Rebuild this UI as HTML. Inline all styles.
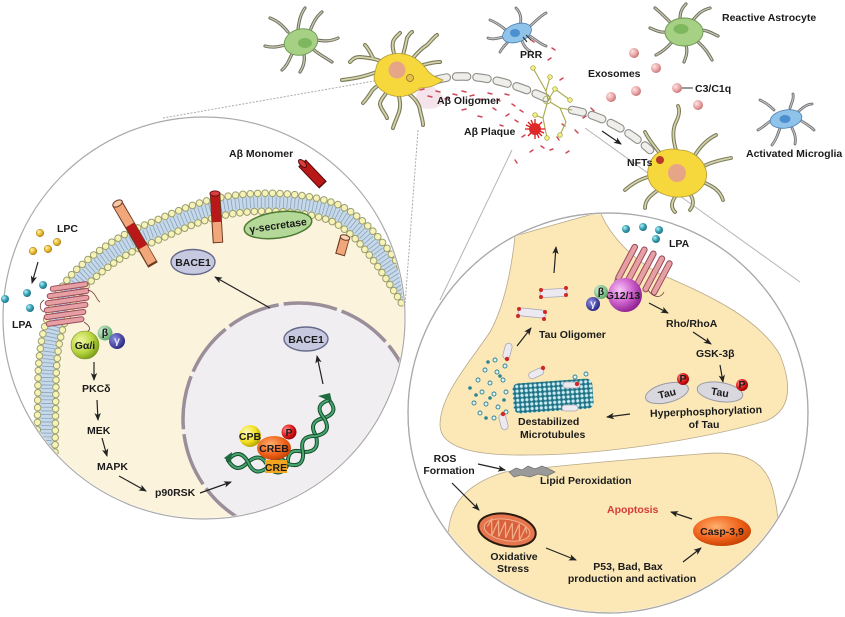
<!DOCTYPE html>
<html><head><meta charset="utf-8"><style>
html,body{margin:0;padding:0;background:#fff;}
svg{display:block;}
text{font-family:"Liberation Sans",Arial,sans-serif;font-weight:bold;font-size:10.5px;fill:#1b1b1b;}
.ar{stroke:#222;stroke-width:1.2;fill:none;marker-end:url(#ah);}
.c{text-anchor:middle;}
</style></head><body>
<svg width="845" height="617" viewBox="0 0 845 617" xmlns="http://www.w3.org/2000/svg">
<defs>
<marker id="ah" markerWidth="9" markerHeight="8" refX="7" refY="4" orient="auto" markerUnits="userSpaceOnUse"><path d="M0,0.8 L8,4 L0,7.2 L2,4 Z" fill="#222"/></marker>
<clipPath id="cl"><circle cx="204" cy="318" r="200"/></clipPath>
<clipPath id="cr"><circle cx="608" cy="413" r="199"/></clipPath>
<radialGradient id="gTeal" cx="0.35" cy="0.35" r="0.7"><stop offset="0" stop-color="#bff0f5"/><stop offset="0.5" stop-color="#3aa6b8"/><stop offset="1" stop-color="#1f6f80"/></radialGradient>
<radialGradient id="gYel" cx="0.35" cy="0.35" r="0.7"><stop offset="0" stop-color="#fff3b0"/><stop offset="0.5" stop-color="#efc23c"/><stop offset="1" stop-color="#b88a10"/></radialGradient>
<radialGradient id="gPink" cx="0.35" cy="0.35" r="0.7"><stop offset="0" stop-color="#fde3e3"/><stop offset="0.6" stop-color="#e9a3a3"/><stop offset="1" stop-color="#c07070"/></radialGradient>
<radialGradient id="gGa" cx="0.35" cy="0.35" r="0.7"><stop offset="0" stop-color="#f1f7a0"/><stop offset="0.6" stop-color="#b8d640"/><stop offset="1" stop-color="#7a9e18"/></radialGradient>
<radialGradient id="gB" cx="0.35" cy="0.35" r="0.7"><stop offset="0" stop-color="#d5f0d8"/><stop offset="1" stop-color="#5aa868"/></radialGradient>
<radialGradient id="gG" cx="0.35" cy="0.35" r="0.7"><stop offset="0" stop-color="#8c8ce0"/><stop offset="1" stop-color="#262680"/></radialGradient>
<radialGradient id="gPur" cx="0.35" cy="0.35" r="0.7"><stop offset="0" stop-color="#f6c6f6"/><stop offset="0.5" stop-color="#d268d2"/><stop offset="1" stop-color="#8e1e8e"/></radialGradient>
<radialGradient id="gOr" cx="0.4" cy="0.35" r="0.7"><stop offset="0" stop-color="#ffb070"/><stop offset="0.6" stop-color="#f0621a"/><stop offset="1" stop-color="#c03e00"/></radialGradient>
<radialGradient id="gRed" cx="0.35" cy="0.35" r="0.7"><stop offset="0" stop-color="#ff9090"/><stop offset="0.6" stop-color="#e01818"/><stop offset="1" stop-color="#900000"/></radialGradient>
<radialGradient id="gCpb" cx="0.35" cy="0.35" r="0.7"><stop offset="0" stop-color="#fffcc0"/><stop offset="0.6" stop-color="#f3e020"/><stop offset="1" stop-color="#b0a000"/></radialGradient>
<pattern id="mt" width="4.6" height="4.6" patternUnits="userSpaceOnUse"><rect width="4.6" height="4.6" fill="#1f6f80"/><circle cx="2.3" cy="2.3" r="1.9" fill="#cdebf1" stroke="#2b8396" stroke-width="0.6"/></pattern>
</defs>

<!-- connector lines -->
<line x1="163" y1="118" x2="380" y2="80" stroke="#aaa" stroke-width="1" stroke-dasharray="2 1.5"/>
<line x1="418" y1="130" x2="405" y2="305" stroke="#aaa" stroke-width="1" stroke-dasharray="2 1.5"/>
<line x1="512" y1="150" x2="440" y2="300" stroke="#b5b5b5" stroke-width="1"/>
<line x1="585" y1="128" x2="800" y2="282" stroke="#b5b5b5" stroke-width="1"/>

<!-- LEFT CIRCLE -->
<circle cx="204" cy="318" r="201" fill="#fff" stroke="#aaa" stroke-width="1.2"/>
<g clip-path="url(#cl)">
  <path d="M46,452 L47,380 C48,330 60,300 82,277 C105,255 130,240 153,232 C180,220 200,210 230,205 C270,199 310,203 335,213 C360,225 380,250 410,300 L430,560 L20,560 Z" fill="#fcf3dd"/>
  <!-- nucleus -->
  <circle cx="299" cy="419" r="116" fill="#f1eef1" stroke="#998e99" stroke-width="3.5" stroke-dasharray="54 5"/>
  <!-- membrane -->
  <path d="M46,452 L47,380 C48,330 60,300 82,277 C105,255 130,240 153,232 C180,220 200,210 230,205 C270,199 310,203 335,213 C360,225 380,250 410,300" fill="none" stroke="#c6d9ea" stroke-width="15"/>
  <path d="M46,452 L47,380 C48,330 60,300 82,277 C105,255 130,240 153,232 C180,220 200,210 230,205 C270,199 310,203 335,213 C360,225 380,250 410,300" fill="none" stroke="#8aa2bb" stroke-width="11" stroke-dasharray="0.8 2.9"/>
  <g fill="none" stroke-linecap="round">
    <path d="M37,452 L38,380 C39,326 53,293 76,270 C101,247 127,231 150,223 C178,211 198,201 229,196 C270,190 312,194 339,205 C366,218 388,245 418,296" stroke="#9a9e6c" stroke-width="7.6" stroke-dasharray="0 7.4"/>
    <path d="M37,452 L38,380 C39,326 53,293 76,270 C101,247 127,231 150,223 C178,211 198,201 229,196 C270,190 312,194 339,205 C366,218 388,245 418,296" stroke="#f7f3b8" stroke-width="5.6" stroke-dasharray="0 7.4"/>
    <path d="M55,452 L56,380 C57,334 67,307 88,284 C110,263 134,249 156,241 C183,229 202,219 231,214 C270,208 308,212 331,221 C354,232 372,255 402,304" stroke="#9a9e6c" stroke-width="7.6" stroke-dasharray="0 7.2"/>
    <path d="M55,452 L56,380 C57,334 67,307 88,284 C110,263 134,249 156,241 C183,229 202,219 231,214 C270,208 308,212 331,221 C354,232 372,255 402,304" stroke="#f7f3b8" stroke-width="5.6" stroke-dasharray="0 7.2"/>
  </g>
</g>

<!-- cylinders -->
<g stroke-linecap="butt">
  <line x1="117" y1="203" x2="153" y2="265" stroke="#6b3a22" stroke-width="11"/>
  <line x1="118" y1="205" x2="130" y2="225" stroke="#f2a77a" stroke-width="9"/>
  <line x1="130" y1="225" x2="143" y2="247" stroke="#b81818" stroke-width="9"/>
  <line x1="143" y1="247" x2="152" y2="263" stroke="#f2a77a" stroke-width="9"/>
  <ellipse cx="117.5" cy="203.5" rx="5.2" ry="3" transform="rotate(-30 117.5 203.5)" fill="#f9c9a8" stroke="#6b3a22" stroke-width="1"/>
  <line x1="215" y1="193" x2="218" y2="243" stroke="#6b3a22" stroke-width="10.5"/>
  <line x1="215" y1="195" x2="216.8" y2="222" stroke="#b81818" stroke-width="8.5"/>
  <line x1="216.8" y1="222" x2="218" y2="242" stroke="#f2a77a" stroke-width="8.5"/>
  <ellipse cx="215" cy="193.5" rx="5" ry="2.6" fill="#d84040" stroke="#6b1010" stroke-width="1"/>
  <line x1="345" y1="237" x2="340" y2="255" stroke="#6b3a22" stroke-width="10"/>
  <line x1="345" y1="238" x2="340.3" y2="254" stroke="#f2a77a" stroke-width="8"/>
  <ellipse cx="345" cy="237.5" rx="4.8" ry="2.6" transform="rotate(15 345 237.5)" fill="#f9d3b8" stroke="#6b3a22" stroke-width="1"/>
  <line x1="302" y1="163" x2="323" y2="185" stroke="#5a0a0a" stroke-width="10.5"/>
  <line x1="303" y1="164" x2="322" y2="184" stroke="#b81818" stroke-width="8.5"/>
  <ellipse cx="302.5" cy="163.5" rx="5" ry="2.6" transform="rotate(45 302.5 163.5)" fill="#d84040" stroke="#5a0a0a" stroke-width="1"/>
</g>

<!-- gamma secretase -->
<g transform="rotate(-8 278 225)">
  <ellipse cx="278" cy="225" rx="34" ry="13" fill="#b4d898" stroke="#4b7a32" stroke-width="1.5"/>
  <text x="278" y="229" class="c" font-size="10">γ-secretase</text>
</g>
<!-- BACE1 -->
<ellipse cx="193" cy="262" rx="22" ry="12.5" fill="#c6c9e0" stroke="#666a8a" stroke-width="1.4"/>
<text x="193" y="266" class="c" font-size="9.5">BACE1</text>
<ellipse cx="306" cy="339" rx="22" ry="12" fill="#c6c9e0" stroke="#666a8a" stroke-width="1.4"/>
<text x="306" y="343" class="c" font-size="9.5">BACE1</text>
<text x="229" y="157">Aβ Monomer</text>

<!-- LPC / LPA -->
<g stroke="#a07a10" stroke-width="0.5" fill="url(#gYel)">
  <circle cx="40" cy="233" r="3.8"/><circle cx="57" cy="242" r="3.8"/><circle cx="48" cy="249" r="3.8"/><circle cx="33" cy="251" r="3.8"/>
</g>
<text x="57" y="232">LPC</text>
<line x1="38" y1="262" x2="32" y2="283" class="ar"/>
<g fill="url(#gTeal)">
  <circle cx="43" cy="285" r="4"/><circle cx="27" cy="293" r="4"/><circle cx="30" cy="308" r="4"/><circle cx="5" cy="299" r="4"/>
</g>
<text x="12" y="328">LPA</text>
<!-- left receptor -->
<g fill="#e6a0a4" stroke="#9a4a5a" stroke-width="1">
  <rect x="50" y="284" width="38" height="5" rx="2.5" transform="rotate(-8 69 286)"/>
  <rect x="47" y="291" width="42" height="5" rx="2.5" transform="rotate(-8 68 293)"/>
  <rect x="45" y="298" width="44" height="5" rx="2.5" transform="rotate(-8 67 300)"/>
  <rect x="44" y="305" width="44" height="5" rx="2.5" transform="rotate(-8 66 307)"/>
  <rect x="44" y="312" width="42" height="5" rx="2.5" transform="rotate(-8 65 314)"/>
  <rect x="46" y="319" width="38" height="5" rx="2.5" transform="rotate(-8 65 321)"/>
</g>
<path d="M88,290 C96,292 96,300 100,302 M44,300 C38,304 40,310 44,312 M84,322 C90,326 92,330 86,332" fill="none" stroke="#6a3a3a" stroke-width="0.8"/>
<!-- G proteins -->
<circle cx="85" cy="345" r="14" fill="url(#gGa)" stroke="#7a9020" stroke-width="0.6"/>
<text x="85" y="349" class="c" font-size="9">Gα/i</text>
<circle cx="105" cy="333" r="7.5" fill="url(#gB)"/>
<text x="105" y="336" class="c" font-size="8.5">β</text>
<circle cx="117" cy="341" r="8" fill="url(#gG)"/>
<text x="117" y="344" class="c" font-size="8.5" style="fill:#e8e8ff">γ</text>
<line x1="94" y1="362" x2="94" y2="380" class="ar"/>
<text x="82" y="392">PKCδ</text>
<line x1="97" y1="400" x2="98" y2="420" class="ar"/>
<text x="87" y="434">MEK</text>
<line x1="102" y1="438" x2="107" y2="456" class="ar"/>
<text x="97" y="470">MAPK</text>
<line x1="119" y1="476" x2="146" y2="491" class="ar"/>
<text x="155" y="496">p90RSK</text>
<line x1="200" y1="493" x2="231" y2="482" class="ar"/>
<line x1="270" y1="308" x2="215" y2="277" class="ar"/>
<line x1="323" y1="384" x2="317" y2="356" class="ar"/>

<!-- DNA -->
<g fill="none" stroke-linecap="round">
  <path d="M228,460 Q236.6,474.9 248,462 Q261.4,450.9 268,467 Q280.1,479.4 288,464 Q286.75,447.1 303,452 Q320.4,452.8 316,436 Q307.3,421.3 324,418 Q339.9,412.8 329,400" stroke="#134d2c" stroke-width="4"/>
  <path d="M228,460 Q236.6,474.9 248,462 Q261.4,450.9 268,467 Q280.1,479.4 288,464 Q286.75,447.1 303,452 Q320.4,452.8 316,436 Q307.3,421.3 324,418 Q339.9,412.8 329,400" stroke="#49a56f" stroke-width="2"/>
  <path d="M228,460 Q239.4,447.1 248,462 Q254.6,478.1 268,467 Q275.9,451.6 288,464 Q304.25,468.9 303,452 Q298.6,435.2 316,436 Q332.7,432.7 324,418 Q313.1,405.2 329,400" stroke="#134d2c" stroke-width="4"/>
  <path d="M228,460 Q239.4,447.1 248,462 Q254.6,478.1 268,467 Q275.9,451.6 288,464 Q304.25,468.9 303,452 Q298.6,435.2 316,436 Q332.7,432.7 324,418 Q313.1,405.2 329,400" stroke="#49a56f" stroke-width="2"/>
</g>
<path d="M224,458 L232,452 L231,463 Z" fill="#1f6b40"/>
<path d="M318,396 L330,393 L332,402 Z" fill="#1f6b40"/>
<rect x="265" y="460" width="22" height="13" fill="#f3a520"/>
<text x="276" y="471" class="c" font-size="9.5">CRE</text>
<circle cx="250" cy="436" r="11" fill="url(#gCpb)"/>
<text x="250" y="440" class="c" font-size="9.5">CPB</text>
<ellipse cx="274" cy="448" rx="17" ry="12" fill="url(#gOr)"/>
<text x="274" y="452" class="c" font-size="9.5">CREB</text>
<circle cx="289" cy="432" r="7.5" fill="url(#gRed)"/>
<text x="289" y="436" class="c" font-size="9">P</text>

<!-- RIGHT CIRCLE -->
<circle cx="608" cy="413" r="200" fill="#fff" stroke="#aaa" stroke-width="1.2"/>
<g clip-path="url(#cr)">
  <path d="M515,236 Q560,223 600,212 C610,235 630,258 662,275 C712,296 760,320 780,355 C792,385 792,410 766,421 C700,440 600,455 530,455 C475,456 440,448 440,425 C440,395 470,362 490,332 C505,305 512,265 515,236 Z" fill="#fbe8b6" stroke="#b8a88a" stroke-width="0.8"/>
  <path d="M448,540 C448,505 465,484 505,472 C580,463 650,458 700,454 C740,450 765,458 773,490 C778,510 779,525 777,545 L777,640 L440,640 Z" fill="#fbe8b6" stroke="#b8a88a" stroke-width="0.8"/>
</g>
<circle cx="608" cy="413" r="200" fill="none" stroke="#aaa" stroke-width="1.2"/>

<!-- right receptor -->
<g fill="#e6a0a4" stroke="#9a4a5a" stroke-width="1">
  <rect x="606" y="260" width="40" height="5.5" rx="2.7" transform="rotate(-62 626 262)"/>
  <rect x="615" y="263" width="42" height="5.5" rx="2.7" transform="rotate(-62 636 266)"/>
  <rect x="624" y="267" width="42" height="5.5" rx="2.7" transform="rotate(-62 645 270)"/>
  <rect x="634" y="271" width="40" height="5.5" rx="2.7" transform="rotate(-62 654 274)"/>
  <rect x="643" y="275" width="38" height="5.5" rx="2.7" transform="rotate(-62 662 278)"/>
</g>
<path d="M616,278 C612,284 618,290 624,286 M664,292 C660,300 652,296 648,290" fill="none" stroke="#6a3a3a" stroke-width="0.8"/>
<g fill="url(#gTeal)">
  <circle cx="626" cy="229" r="4"/><circle cx="643" cy="227" r="4"/><circle cx="659" cy="230" r="4"/><circle cx="656" cy="239" r="4"/>
</g>
<text x="669" y="247">LPA</text>
<circle cx="625" cy="295" r="17" fill="url(#gPur)"/>
<text x="623" y="299" class="c" font-size="10">G12/13</text>
<circle cx="601" cy="292" r="7" fill="url(#gB)"/>
<text x="601" y="295" class="c" font-size="8.5">β</text>
<circle cx="593" cy="304" r="7" fill="url(#gG)"/>
<text x="593" y="307" class="c" font-size="8.5" style="fill:#e8e8ff">γ</text>
<line x1="649" y1="303" x2="668" y2="313" class="ar"/>
<text x="666" y="327">Rho/RhoA</text>
<line x1="693" y1="332" x2="711" y2="344" class="ar"/>
<text x="696" y="357">GSK-3β</text>
<line x1="720" y1="365" x2="723" y2="382" class="ar"/>
<!-- tau -->
<g transform="rotate(-14 667 393)">
  <ellipse cx="667" cy="393" rx="22" ry="9.5" fill="#d8d8de" stroke="#9a9aa8" stroke-width="1"/>
  <text x="667" y="397" class="c" font-size="10">Tau</text>
</g>
<circle cx="683" cy="379" r="6" fill="url(#gRed)"/><text x="683" y="382" class="c" font-size="7.5">P</text>
<g transform="rotate(9 720 392)">
  <ellipse cx="720" cy="392" rx="23" ry="9.5" fill="#d8d8de" stroke="#9a9aa8" stroke-width="1"/>
  <text x="720" y="396" class="c" font-size="10">Tau</text>
</g>
<circle cx="742" cy="385" r="6" fill="url(#gRed)"/><text x="742" y="388" class="c" font-size="7.5">P</text>
<text x="706" y="415" class="c" transform="rotate(-2 706 411)">Hyperphosphorylation</text>
<text x="704" y="428" class="c">of Tau</text>
<line x1="630" y1="414" x2="607" y2="417" class="ar"/>
<!-- microtubules -->
<g transform="rotate(-4 553 396)">
  <rect x="513" y="381" width="80" height="30" rx="6" fill="url(#mt)"/>
</g>
<g fill="#e4f2f4" stroke="#2b8396" stroke-width="0.9">
  <circle cx="495" cy="360" r="2"/><circle cx="485" cy="370" r="2"/><circle cx="497" cy="372" r="2"/><circle cx="505" cy="366" r="2"/><circle cx="478" cy="380" r="2"/><circle cx="490" cy="383" r="2"/><circle cx="503" cy="380" r="2"/><circle cx="482" cy="392" r="2"/><circle cx="494" cy="394" r="2"/><circle cx="506" cy="392" r="2"/><circle cx="474" cy="403" r="2"/><circle cx="486" cy="404" r="2"/><circle cx="498" cy="407" r="2"/><circle cx="480" cy="413" r="2"/><circle cx="494" cy="418" r="2"/><circle cx="506" cy="412" r="2"/><circle cx="586" cy="374" r="2"/><circle cx="575" cy="377" r="2"/>
</g>
<g fill="#2b8396">
  <circle cx="488" cy="362" r="1.8"/><circle cx="500" cy="376" r="1.8"/><circle cx="476" cy="395" r="1.8"/><circle cx="490" cy="398" r="1.8"/><circle cx="486" cy="418" r="1.8"/><circle cx="504" cy="400" r="1.8"/><circle cx="470" cy="388" r="1.8"/>
</g>
<!-- tau pills -->
<g fill="#eceaf0" stroke="#a8a8b8" stroke-width="0.8">
  <rect x="540" y="289" width="27" height="8" rx="4" transform="rotate(-3 553 293)"/>
  <rect x="518" y="309" width="28" height="8" rx="4" transform="rotate(6 532 313)"/>
  <rect x="504" y="343" width="7" height="16" rx="3.5" transform="rotate(15 507 351)"/>
  <rect x="528" y="370" width="16" height="7" rx="3.5" transform="rotate(-25 536 373)"/>
  <rect x="500" y="414" width="7" height="16" rx="3.5" transform="rotate(-15 503 422)"/>
  <rect x="563" y="382" width="17" height="6" rx="3"/>
  <rect x="562" y="405" width="16" height="6" rx="3"/>
</g>
<g fill="#d02828">
  <circle cx="541" cy="290" r="2"/><circle cx="541" cy="297" r="2"/><circle cx="566" cy="288" r="2"/><circle cx="566" cy="295" r="2"/>
  <circle cx="519" cy="309" r="2"/><circle cx="518" cy="316" r="2"/><circle cx="545" cy="312" r="2"/><circle cx="544" cy="319" r="2"/>
  <circle cx="507" cy="359" r="2.2"/><circle cx="543" cy="368" r="2.2"/><circle cx="503" cy="414" r="2.2"/><circle cx="577" cy="384" r="2.2"/>
</g>
<line x1="517" y1="346" x2="531" y2="328" class="ar"/>
<line x1="554" y1="273" x2="556" y2="247" class="ar"/>
<text x="539" y="338">Tau Oligomer</text>
<text x="518" y="425">Destabilized</text>
<text x="520" y="438">Microtubules</text>

<!-- lower -->
<text x="445" y="462" class="c">ROS</text>
<text x="449" y="474" class="c">Formation</text>
<line x1="478" y1="464" x2="505" y2="470" class="ar"/>
<path d="M509,472 L516,468 L522,470 L528,466 L535,469 L542,466 L549,469 L555,472 L547,476 L538,474 L530,477 L521,475 L514,477 Z" fill="#9a9a9a" stroke="#6f6f6f" stroke-width="0.7"/>
<text x="540" y="484">Lipid Peroxidation</text>
<line x1="452" y1="483" x2="479" y2="510" class="ar"/>
<g transform="rotate(10 507 530)">
  <ellipse cx="507" cy="530" rx="29" ry="16" fill="#e5764e" stroke="#2a1a10" stroke-width="2"/>
  <ellipse cx="507" cy="530" rx="23" ry="10.5" fill="#d9603c" stroke="#f2b08a" stroke-width="1"/>
  <path d="M487,530 L490,522 L493,538 L497,522 L500,538 L504,522 L507,538 L511,522 L514,538 L518,522 L521,538 L525,524 L527,530" fill="none" stroke="#f2b08a" stroke-width="1.2"/>
</g>
<text x="514" y="560" class="c">Oxidative</text>
<text x="513" y="572" class="c">Stress</text>
<line x1="546" y1="548" x2="576" y2="560" class="ar"/>
<text x="628" y="570" class="c">P53, Bad, Bax</text>
<text x="632" y="582" class="c" font-size="10.5">production and activation</text>
<line x1="683" y1="562" x2="701" y2="548" class="ar"/>
<ellipse cx="722" cy="531" rx="29" ry="15" fill="url(#gOr)"/>
<text x="722" y="535" class="c">Casp-3,9</text>
<line x1="692" y1="519" x2="671" y2="512" class="ar"/>
<text x="607" y="513" style="fill:#d83a3a">Apoptosis</text>

<!-- TOP: oligomer spray -->
<path d="M418,84 C430,82 440,90 445,100 C440,110 425,112 415,104 Z" fill="#f3dde6" opacity="0.8"/>
<g stroke="#d04858" stroke-width="1.5" stroke-linecap="round">
  <line x1="420" y1="90" x2="424" y2="89"/><line x1="428" y1="96" x2="432" y2="97"/><line x1="436" y1="91" x2="440" y2="92"/><line x1="445" y1="99" x2="449" y2="98"/><line x1="453" y1="94" x2="457" y2="95"/><line x1="462" y1="91" x2="466" y2="92"/><line x1="470" y1="96" x2="474" y2="95"/><line x1="479" y1="99" x2="483" y2="100"/><line x1="488" y1="93" x2="492" y2="94"/><line x1="497" y1="99" x2="500" y2="101"/><line x1="505" y1="94" x2="509" y2="95"/><line x1="512" y1="104" x2="515" y2="106"/><line x1="520" y1="110" x2="523" y2="112"/><line x1="506" y1="116" x2="509" y2="114"/><line x1="500" y1="125" x2="503" y2="126"/><line x1="515" y1="120" x2="518" y2="122"/><line x1="522" y1="137" x2="525" y2="135"/><line x1="541" y1="146" x2="544" y2="148"/><line x1="550" y1="150" x2="553" y2="149"/><line x1="557" y1="137" x2="559" y2="140"/><line x1="562" y1="124" x2="565" y2="126"/><line x1="566" y1="153" x2="569" y2="151"/><line x1="575" y1="130" x2="578" y2="133"/><line x1="583" y1="118" x2="586" y2="116"/><line x1="548" y1="60" x2="551" y2="58"/><line x1="552" y1="48" x2="555" y2="50"/><line x1="531" y1="40" x2="534" y2="42"/><line x1="560" y1="80" x2="563" y2="78"/><line x1="462" y1="110" x2="466" y2="109"/><line x1="478" y1="116" x2="482" y2="117"/><line x1="493" y1="108" x2="496" y2="110"/><line x1="530" y1="152" x2="533" y2="150"/><line x1="591" y1="108" x2="594" y2="111"/><line x1="515" y1="160" x2="517" y2="163"/>
</g>

<!-- axons -->
<g fill="none" stroke-linecap="round">
  <path d="M436,80 C462,72 502,77 550,100" stroke="#8e8e8a" stroke-width="8.6" stroke-dasharray="11 9.5"/>
  <path d="M436,80 C462,72 502,77 550,100" stroke="#efeeea" stroke-width="6.4" stroke-dasharray="11 9.5"/>
  <path d="M572,110 C600,115 628,130 650,150" stroke="#8e8e8a" stroke-width="8.6" stroke-dasharray="11 9.5"/>
  <path d="M572,110 C600,115 628,130 650,150" stroke="#efeeea" stroke-width="6.4" stroke-dasharray="11 9.5"/>
</g>
<!-- terminal branches -->
<g fill="none" stroke="#a8a848" stroke-width="1.1">
  <path d="M548,100 L546,91 L550,77 M546,91 L533,68 M548,100 L555,89 L570,100 M548,100 L543,118 L535,115 M543,118 L547,138 M550,102 L560,108 L572,110 M560,108 L566,122 L560,135"/>
</g>
<g fill="#f4f080" stroke="#9a9a40" stroke-width="0.7">
  <circle cx="533" cy="68" r="2.3"/><circle cx="550" cy="77" r="2.3"/><circle cx="555" cy="89" r="2.3"/><circle cx="570" cy="100" r="2.3"/><circle cx="535" cy="115" r="2.3"/><circle cx="547" cy="138" r="2.3"/><circle cx="560" cy="135" r="2.3"/>
</g>
<circle cx="547" cy="100" r="4" fill="none" stroke="#a8a848" stroke-width="0.8"/>
<!-- plaque -->
<g stroke="#d81818" stroke-width="1.3">
  <line x1="525" y1="129" x2="545" y2="129"/><line x1="535" y1="119" x2="535" y2="139"/><line x1="528" y1="122" x2="542" y2="136"/><line x1="542" y1="122" x2="528" y2="136"/>
  <line x1="526" y1="125" x2="544" y2="133"/><line x1="531" y1="120" x2="539" y2="138"/>
</g>
<circle cx="535" cy="129" r="6" fill="#e02828"/>
<text x="464" y="135">Aβ Plaque</text>
<text x="437" y="104">Aβ Oligomer</text>
<line x1="602" y1="131" x2="621" y2="144" class="ar"/>

<!-- yellow neuron -->
<g fill="none" stroke-linecap="round">
  <g stroke="#7a7c58" stroke-width="4">
    <path d="M388,65 C380,60 373,58 360,57 C354,57 352,60 350,62"/>
    <path d="M377,72 C368,75 360,78 342,80"/>
    <path d="M383,83 C376,86 372,90 370,94 C367,98 366,100 363,103"/>
    <path d="M390,88 C385,95 380,100 380,104 C381,110 386,114 387,118"/>
    <path d="M398,92 C400,100 401,106 399,112 C397,118 394,124 393,128"/>
    <path d="M408,93 C414,98 419,103 420,110 C421,116 423,120 423,125"/>
    <path d="M395,57 C393,50 392,46 393,42 C394,38 398,35 400,33"/>
    <path d="M403,55 C405,48 406,43 407,38 C409,35 410,33 412,32"/>
    <path d="M413,58 C418,52 422,48 427,45 C431,41 434,37 437,35"/>
    <path d="M423,65 C430,63 435,62 440,62"/>
    <path d="M373,58 C370,52 368,48 365,45"/>
  </g>
  <g stroke="#d4d3ad" stroke-width="1.8">
    <path d="M388,65 C380,60 373,58 360,57 C354,57 352,60 350,62"/>
    <path d="M377,72 C368,75 360,78 342,80"/>
    <path d="M383,83 C376,86 372,90 370,94 C367,98 366,100 363,103"/>
    <path d="M390,88 C385,95 380,100 380,104 C381,110 386,114 387,118"/>
    <path d="M398,92 C400,100 401,106 399,112 C397,118 394,124 393,128"/>
    <path d="M408,93 C414,98 419,103 420,110 C421,116 423,120 423,125"/>
    <path d="M395,57 C393,50 392,46 393,42 C394,38 398,35 400,33"/>
    <path d="M403,55 C405,48 406,43 407,38 C409,35 410,33 412,32"/>
    <path d="M413,58 C418,52 422,48 427,45 C431,41 434,37 437,35"/>
    <path d="M423,65 C430,63 435,62 440,62"/>
    <path d="M373,58 C370,52 368,48 365,45"/>
  </g>
</g>
<path d="M376,68 C378,57 392,52 403,54 C414,55 422,63 428,71 C432,76 438,78 443,80 C436,86 428,88 420,88 C414,94 404,98 394,96 C384,94 374,86 374,77 Z" fill="#f6d73c" stroke="#b09a35" stroke-width="0.8"/>
<circle cx="397" cy="70" r="8.5" fill="#e6a090" opacity="0.9"/>
<circle cx="410" cy="78" r="3.5" fill="#e6c050" stroke="#8a7020" stroke-width="0.8"/>

<!-- NFTs neuron -->
<g fill="none" stroke-linecap="round">
  <g stroke="#7a7c58" stroke-width="3.8">
    <path d="M676,150 C673,140 672,130 676,122 C679,116 680,110 678,106"/>
    <path d="M662,156 C656,148 650,142 645,132"/>
    <path d="M695,155 C700,147 706,140 716,135"/>
    <path d="M704,166 C712,162 720,160 731,158"/>
    <path d="M703,182 C712,186 720,190 723,200"/>
    <path d="M690,194 C694,200 694,205 690,210"/>
    <path d="M675,197 C671,203 671,208 675,212"/>
    <path d="M658,190 C650,196 645,200 645,208"/>
    <path d="M652,176 C642,178 634,182 625,190"/>
  </g>
  <g stroke="#d4d3ad" stroke-width="1.7">
    <path d="M676,150 C673,140 672,130 676,122 C679,116 680,110 678,106"/>
    <path d="M662,156 C656,148 650,142 645,132"/>
    <path d="M695,155 C700,147 706,140 716,135"/>
    <path d="M704,166 C712,162 720,160 731,158"/>
    <path d="M703,182 C712,186 720,190 723,200"/>
    <path d="M690,194 C694,200 694,205 690,210"/>
    <path d="M675,197 C671,203 671,208 675,212"/>
    <path d="M658,190 C650,196 645,200 645,208"/>
    <path d="M652,176 C642,178 634,182 625,190"/>
  </g>
</g>
<path d="M650,163 C654,151 668,147 680,150 C692,150 703,159 706,170 C709,182 700,193 688,196 C676,199 660,196 652,186 C646,178 647,170 650,163 Z" fill="#f6d73c" stroke="#b09a35" stroke-width="0.8"/>
<circle cx="677" cy="173" r="9" fill="#e6a090" opacity="0.9"/>
<circle cx="660" cy="160" r="4" fill="#b83a2a"/>
<text x="627" y="166">NFTs</text>

<!-- astrocytes -->
<g fill="none" stroke-linecap="round">
  <g stroke="#6e6e5e" stroke-width="3.2">
    <path d="M288,32 C283,26 278,21 270,18"/><path d="M298,29 C299,22 300,15 305,8"/><path d="M310,31 C313,23 316,17 322,12"/>
    <path d="M316,40 C323,41 330,42 338,38"/><path d="M314,50 C320,55 326,58 332,62"/><path d="M304,54 C305,60 304,66 300,72"/>
    <path d="M292,54 C289,60 287,66 282,70"/><path d="M285,45 C278,47 272,48 265,46"/>
    <path d="M670,22 C664,16 660,12 655,8"/><path d="M680,19 C680,12 682,8 686,4"/><path d="M693,20 C698,14 702,10 710,8"/>
    <path d="M700,30 C708,30 713,34 718,36"/><path d="M698,42 C705,48 708,53 712,60"/><path d="M686,45 C688,52 686,57 684,62"/>
    <path d="M672,42 C667,48 662,52 656,55"/><path d="M667,32 C660,33 655,30 650,28"/>
  </g>
  <g stroke="#c9c8b2" stroke-width="1.3">
    <path d="M288,32 C283,26 278,21 270,18"/><path d="M298,29 C299,22 300,15 305,8"/><path d="M310,31 C313,23 316,17 322,12"/>
    <path d="M316,40 C323,41 330,42 338,38"/><path d="M314,50 C320,55 326,58 332,62"/><path d="M304,54 C305,60 304,66 300,72"/>
    <path d="M292,54 C289,60 287,66 282,70"/><path d="M285,45 C278,47 272,48 265,46"/>
    <path d="M670,22 C664,16 660,12 655,8"/><path d="M680,19 C680,12 682,8 686,4"/><path d="M693,20 C698,14 702,10 710,8"/>
    <path d="M700,30 C708,30 713,34 718,36"/><path d="M698,42 C705,48 708,53 712,60"/><path d="M686,45 C688,52 686,57 684,62"/>
    <path d="M672,42 C667,48 662,52 656,55"/><path d="M667,32 C660,33 655,30 650,28"/>
  </g>
</g>
<ellipse cx="301" cy="42" rx="17" ry="13" transform="rotate(-15 301 42)" fill="#a6d184" stroke="#6a9650" stroke-width="0.9"/>
<ellipse cx="305" cy="43" rx="7" ry="5" fill="#7db85e"/>
<ellipse cx="684" cy="32" rx="19" ry="14" fill="#a6d184" stroke="#6a9650" stroke-width="0.9"/>
<ellipse cx="681" cy="29" rx="7.5" ry="5" fill="#7db85e"/>
<text x="722" y="21">Reactive Astrocyte</text>

<!-- microglia -->
<g fill="none" stroke-linecap="round">
  <g stroke="#6f6f73" stroke-width="2.8">
    <path d="M506,30 C500,25 495,22 490,20"/><path d="M504,37 C497,38 493,40 488,38"/><path d="M510,40 C505,45 502,48 500,52"/>
    <path d="M520,26 C522,18 520,12 516,8"/><path d="M528,28 C535,22 540,16 546,13"/><path d="M530,36 C536,40 540,44 546,46"/><path d="M522,41 C524,46 526,49 530,51"/>
    <path d="M774,110 C768,104 764,102 760,100"/><path d="M772,120 C766,124 762,128 758,130"/><path d="M780,128 C778,134 776,140 772,145"/>
    <path d="M790,108 C792,102 794,98 793,94"/><path d="M798,112 C804,106 808,104 812,104"/><path d="M800,120 C806,124 810,126 814,130"/><path d="M792,128 C795,134 796,138 795,144"/>
  </g>
  <g stroke="#c6c6c9" stroke-width="1.1">
    <path d="M506,30 C500,25 495,22 490,20"/><path d="M504,37 C497,38 493,40 488,38"/><path d="M510,40 C505,45 502,48 500,52"/>
    <path d="M520,26 C522,18 520,12 516,8"/><path d="M528,28 C535,22 540,16 546,13"/><path d="M530,36 C536,40 540,44 546,46"/><path d="M522,41 C524,46 526,49 530,51"/>
    <path d="M774,110 C768,104 764,102 760,100"/><path d="M772,120 C766,124 762,128 758,130"/><path d="M780,128 C778,134 776,140 772,145"/>
    <path d="M790,108 C792,102 794,98 793,94"/><path d="M798,112 C804,106 808,104 812,104"/><path d="M800,120 C806,124 810,126 814,130"/><path d="M792,128 C795,134 796,138 795,144"/>
  </g>
</g>
<ellipse cx="517" cy="33" rx="15" ry="9" transform="rotate(-20 517 33)" fill="#8fc3ea" stroke="#4a7fb0" stroke-width="0.8"/>
<ellipse cx="515" cy="33" rx="5" ry="4" fill="#4b8fcf"/>
<path d="M523,37 L527,42 M526,35 L531,40" stroke="#333" stroke-width="1.2"/>
<text x="520" y="58">PRR</text>
<ellipse cx="786" cy="119" rx="16" ry="9" transform="rotate(-10 786 119)" fill="#8fc3ea" stroke="#4a7fb0" stroke-width="0.8"/>
<ellipse cx="785" cy="119" rx="5.5" ry="4" fill="#4b8fcf"/>
<text x="746" y="157">Activated Microglia</text>

<!-- exosomes -->
<g fill="url(#gPink)">
  <circle cx="634" cy="53" r="5"/><circle cx="656" cy="68" r="5"/><circle cx="611" cy="97" r="5"/><circle cx="636" cy="91" r="5"/><circle cx="677" cy="88" r="5"/><circle cx="698" cy="105" r="5"/>
</g>
<text x="588" y="77">Exosomes</text>
<line x1="682" y1="88" x2="693" y2="88" stroke="#333" stroke-width="1"/>
<text x="695" y="92">C3/C1q</text>
</svg>
</body></html>
